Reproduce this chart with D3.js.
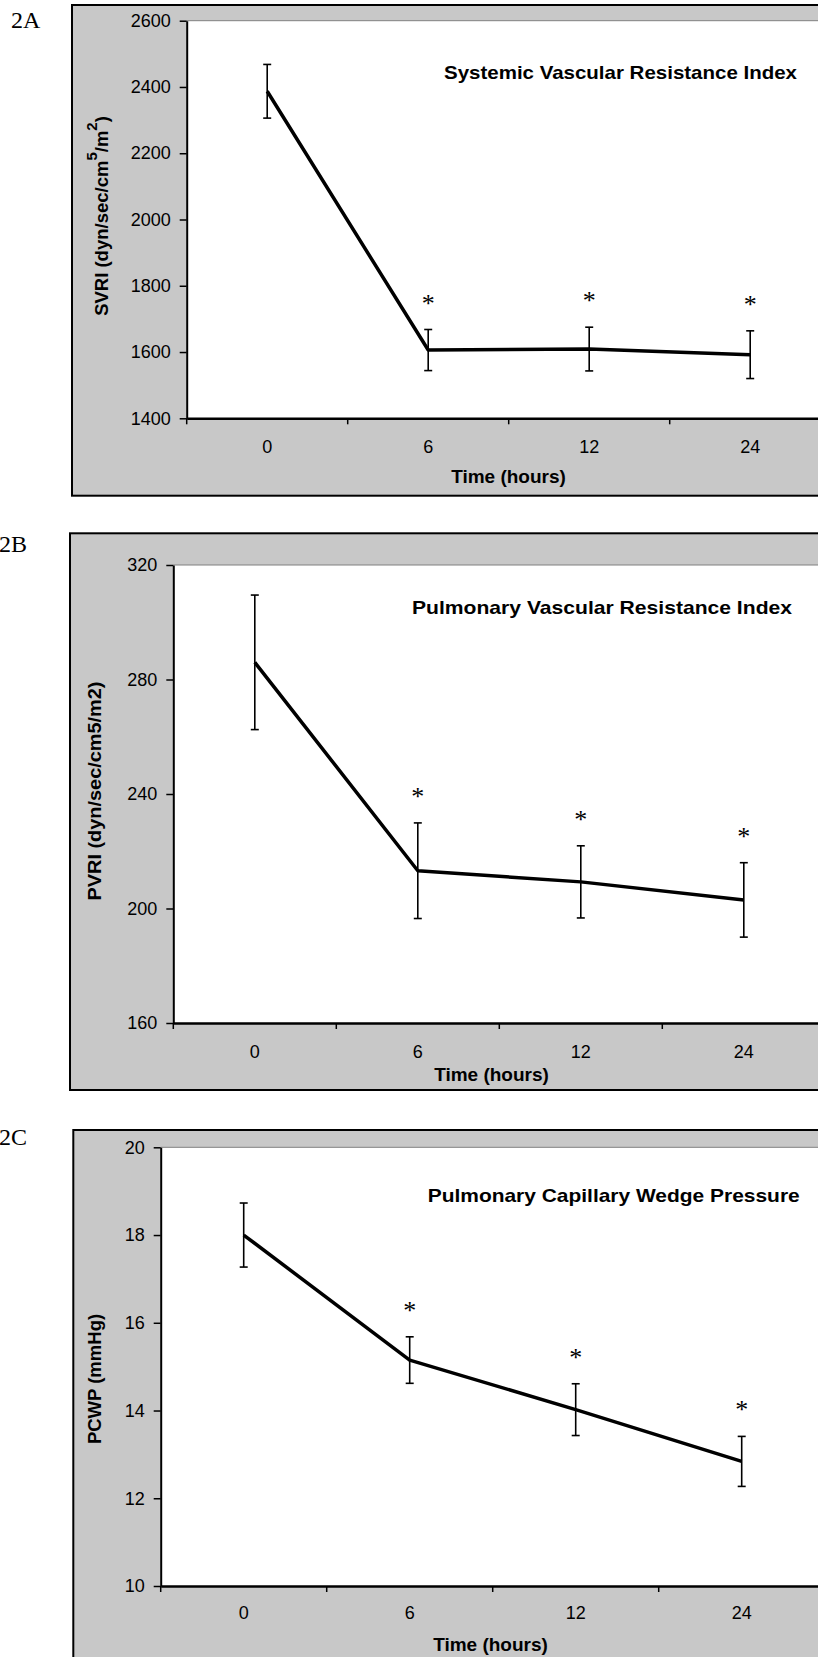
<!DOCTYPE html>
<head>
  <meta charset="UTF-8">
  <script src="https://d3js.org/d3.v7.min.js"></script>
</head>
<body>
  <div id="container">
    <svg id="chartSVG"></svg>
  </div>
</body>
<style>
  body { margin: 0; background: #fff; }
  #chartSVG { display: block; overflow: hidden; }
  .tick text { font-family: 'Liberation Sans', Arial, sans-serif; font-size: 18px; fill: #000; }
  .ttl { font-family: 'Liberation Sans', Arial, sans-serif; font-weight: bold; fill: #000; }
  .panelTag { font-family: 'Liberation Serif', 'Times New Roman', serif; font-size: 24px; fill: #000; }
  .star { font-family: 'Liberation Serif', 'Times New Roman', serif; font-size: 26px; fill: #000; }
</style>
<script type="text/javascript">
  // values
  const timeLabels=["0","6","12","24"];
  const significant=[false,true,true,true];

  const svriMean=[2387,1606,1609,1592];
  const svriErr=[81,62,66,72];
  const svriTicks=[1400,1600,1800,2000,2200,2400,2600];

  const pvriMean=[286,213.2,209.3,203];
  const pvriErr=[23.5,16.7,12.6,13];
  const pvriTicks=[160,200,240,280,320];

  const pcwpMean=[18.0,15.15,14.02,12.84];
  const pcwpErr=[0.73,0.53,0.59,0.57];
  const pcwpTicks=[10,12,14,16,18,20];

  const W=818,H=1657;
  const svg=d3.select('#chartSVG').attr('width',W).attr('height',H);

  const panels=[
    {tag:'2A',tagX:11,tagY:28,
     box:{x:72,y:5,h:490.7},plot:{x0:186.7,x1:830.7,y0:20.7,y1:418.3},
     mean:svriMean,err:svriErr,ticks:svriTicks,
     title:'Systemic Vascular Resistance Index',titleX:444,titleY:78.5,titleW:353,
     ylab:'svri',ylabX:108,ylabY:216,
     xPad:22,timeX:508.5,timeDy:65},
    {tag:'2B',tagX:-1,tagY:552,
     box:{x:70,y:533.3,h:556.7},plot:{x0:173.3,x1:825.3,y0:565,y1:1023},
     mean:pvriMean,err:pvriErr,ticks:pvriTicks,
     title:'Pulmonary Vascular Resistance Index',titleX:412,titleY:614,titleW:380,
     ylab:'pvri',ylabX:101,ylabY:791,
     xPad:22,timeX:491.5,timeDy:57.5},
    {tag:'2C',tagX:-1,tagY:1145,
     box:{x:73.3,y:1130,h:600},plot:{x0:160.7,x1:824.7,y0:1147.3,y1:1586},
     mean:pcwpMean,err:pcwpErr,ticks:pcwpTicks,
     title:'Pulmonary Capillary Wedge Pressure',titleX:427.7,titleY:1202,titleW:372,
     ylab:'pcwp',ylabX:101,ylabY:1379,
     xPad:20.5,timeX:490.5,timeDy:65}
  ];

  panels.forEach(p => {
    const g=svg.append('g');

    // outer grey frame (runs past the right edge like the original)
    g.append('rect')
      .attr('x',p.box.x).attr('y',p.box.y)
      .attr('width',W+60-p.box.x).attr('height',p.box.h)
      .attr('fill','#c8c8c8').attr('stroke','#000').attr('stroke-width',2);

    g.append('text').attr('class','panelTag')
      .attr('x',p.tagX).attr('y',p.tagY).text(p.tag);

    const x=d3.scaleBand().domain(timeLabels).range([p.plot.x0,p.plot.x1]).padding(0);
    const y=d3.scaleLinear().domain(d3.extent(p.ticks)).range([p.plot.y1,p.plot.y0]);

    // white plot area
    g.append('rect')
      .attr('x',p.plot.x0).attr('y',p.plot.y0)
      .attr('width',p.plot.x1-p.plot.x0).attr('height',p.plot.y1-p.plot.y0)
      .attr('fill','#fff');
    g.append('line')
      .attr('x1',p.plot.x0).attr('x2',p.plot.x1)
      .attr('y1',p.plot.y0).attr('y2',p.plot.y0)
      .attr('stroke','#808080').attr('stroke-width',1);

    // y axis
    const ya=g.append('g')
      .attr('transform',`translate(${p.plot.x0},0)`)
      .call(d3.axisLeft(y).tickValues(p.ticks).tickFormat(d3.format('d'))
        .tickSize(7).tickPadding(9).tickSizeOuter(0));
    ya.select('.domain').attr('stroke','#000').attr('stroke-width',2);
    ya.selectAll('.tick line').attr('stroke','#000').attr('stroke-width',1.5);

    // x axis: labels at band centres, ticks at band edges
    const xa=g.append('g')
      .attr('transform',`translate(0,${p.plot.y1})`)
      .call(d3.axisBottom(x).tickSize(0).tickPadding(p.xPad).tickSizeOuter(0));
    xa.select('.domain').attr('stroke','#000').attr('stroke-width',2.5);
    const edges=timeLabels.map(d => x(d)).concat([p.plot.x1]);
    xa.selectAll('line.edge')
      .data(edges)
      .join('line')
      .attr('class','edge')
      .attr('x1',d => d).attr('x2',d => d)
      .attr('y1',0).attr('y2',6)
      .attr('stroke','#000').attr('stroke-width',1.5);

    g.append('text').attr('class','ttl')
      .attr('x',p.timeX).attr('y',p.plot.y1+p.timeDy)
      .attr('text-anchor','middle').attr('font-size','19px')
      .text('Time (hours)');

    g.append('text').attr('class','ttl')
      .attr('x',p.titleX).attr('y',p.titleY)
      .attr('font-size','19px')
      .attr('textLength',p.titleW).attr('lengthAdjust','spacingAndGlyphs')
      .text(p.title);

    // y axis title
    const yl=g.append('text').attr('class','ttl')
      .attr('font-size','18.5px')
      .attr('text-anchor','middle')
      .attr('transform',`translate(${p.ylabX},${p.ylabY}) rotate(-90)`);
    if(p.ylab === 'svri'){
      yl.append('tspan').text('SVRI (dyn/sec/cm');
      yl.append('tspan').attr('dy',-11).attr('font-size','15px').text('5');
      yl.append('tspan').attr('dy',11).text('/m');
      yl.append('tspan').attr('dy',-11).attr('font-size','15px').text('2');
      yl.append('tspan').attr('dy',11).text(')');
    }else if(p.ylab === 'pvri'){
      yl.attr('textLength',219).attr('lengthAdjust','spacingAndGlyphs')
        .text('PVRI (dyn/sec/cm5/m2)');
    }else{
      yl.text('PCWP (mmHg)');
    }

    const rows=timeLabels.map((t,i) => ({t,m:p.mean[i],e:p.err[i],sig:significant[i]}));
    const cx=d => x(d.t)+x.bandwidth()/2;

    // error bars
    const eb=g.append('g').selectAll('g').data(rows).join('g');
    eb.append('line')
      .attr('x1',cx).attr('x2',cx)
      .attr('y1',d => y(d.m-d.e)).attr('y2',d => y(d.m+d.e))
      .attr('stroke','#000').attr('stroke-width',1.6);
    [-1,1].forEach(s => {
      eb.append('line')
        .attr('x1',d => cx(d)-4).attr('x2',d => cx(d)+4)
        .attr('y1',d => y(d.m+s*d.e)).attr('y2',d => y(d.m+s*d.e))
        .attr('stroke','#000').attr('stroke-width',1.6);
    });

    // mean line
    g.append('path')
      .datum(rows)
      .attr('d',d3.line().x(cx).y(d => y(d.m)))
      .attr('fill','none')
      .attr('stroke','#000')
      .attr('stroke-width',3.5)
      .attr('stroke-linejoin','round');

    // significance stars
    g.append('g').selectAll('text')
      .data(rows.filter(d => d.sig))
      .join('text')
      .attr('class','star')
      .attr('x',cx)
      .attr('y',d => y(d.m+d.e)-18)
      .attr('text-anchor','middle')
      .text('*');
  });
</script>
